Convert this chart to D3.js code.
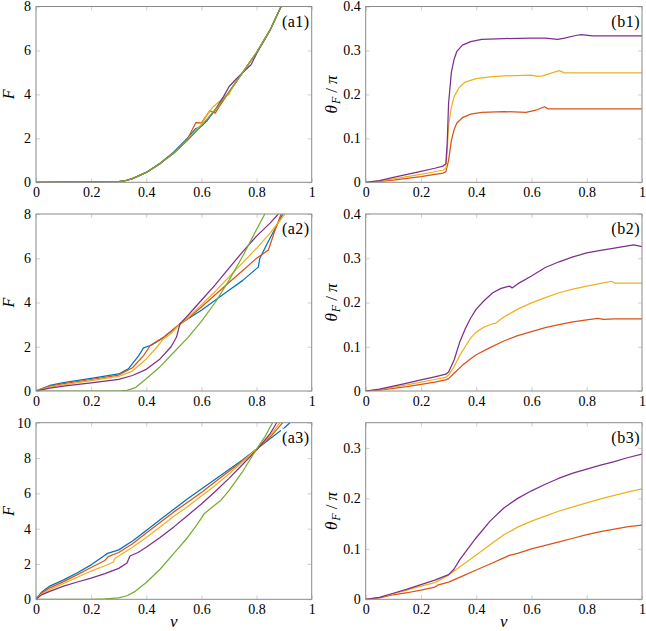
<!DOCTYPE html>
<html><head><meta charset="utf-8">
<script src="https://cdn.jsdelivr.net/npm/d3@7"></script>
<style>
body{margin:0;background:#fff;}
svg{display:block;}
</style></head>
<body><svg id="c" width="646" height="631"></svg>
<script>
// ---------- DATA ----------
const xTicks = [0, 0.2, 0.4, 0.6, 0.8, 1];
const yTicksA12 = [0, 2, 4, 6, 8];
const yTicksA3 = [0, 2, 4, 6, 8, 10];
const yTicksB12 = [0, 0.1, 0.2, 0.3, 0.4];
const yTicksB3 = [0, 0.1, 0.2, 0.3];
const colors = {blue:"#0072BD", red:"#D95319", yellow:"#EDB120", purple:"#7E2F8E", green:"#77AC30"};

// (a1) F vs v
const a1Blue   = [[0,0],[0.1,0.005],[0.2,0.01],[0.3,0.03],[0.32,0.06],[0.35,0.17],[0.4,0.45],[0.45,0.87],[0.5,1.38],[0.55,2.02],[0.58,2.45],[0.6,2.55],[0.62,2.8],[0.65,3.3],[0.7,4.1],[0.75,5.0],[0.8,5.9],[0.85,6.95],[0.889,8.0]];
const a1Red    = [[0,0],[0.1,0.005],[0.2,0.01],[0.3,0.03],[0.32,0.06],[0.35,0.17],[0.4,0.45],[0.45,0.85],[0.5,1.35],[0.55,1.98],[0.58,2.72],[0.6,2.7],[0.63,3.25],[0.65,3.15],[0.67,3.55],[0.7,4.1],[0.75,5.0],[0.8,5.9],[0.85,6.95],[0.889,8.0]];
const a1Yellow = [[0,0],[0.1,0.005],[0.2,0.01],[0.3,0.03],[0.32,0.06],[0.35,0.17],[0.4,0.45],[0.45,0.85],[0.5,1.33],[0.55,1.95],[0.6,2.65],[0.62,3.05],[0.64,3.4],[0.68,3.85],[0.7,4.0],[0.72,4.5],[0.75,5.0],[0.8,5.9],[0.85,6.95],[0.889,8.0]];
const a1Purple = [[0,0],[0.1,0.005],[0.2,0.01],[0.3,0.03],[0.32,0.06],[0.35,0.17],[0.4,0.45],[0.45,0.85],[0.5,1.33],[0.55,1.92],[0.6,2.57],[0.65,3.3],[0.68,3.9],[0.7,4.35],[0.72,4.62],[0.75,5.0],[0.78,5.35],[0.8,5.85],[0.85,6.95],[0.889,8.0]];
const a1Green  = [[0,0],[0.1,0.005],[0.2,0.01],[0.3,0.03],[0.32,0.06],[0.35,0.17],[0.4,0.45],[0.45,0.85],[0.5,1.33],[0.55,1.92],[0.6,2.57],[0.65,3.3],[0.7,4.1],[0.75,5.0],[0.8,5.9],[0.85,6.95],[0.889,8.0]];

// (b1) theta_F/pi vs v
const b1Red    = [[0,0],[0.05,0.002],[0.1,0.005],[0.15,0.009],[0.2,0.013],[0.25,0.018],[0.28,0.021],[0.29,0.024],[0.3,0.05],[0.31,0.095],[0.32,0.12],[0.33,0.135],[0.35,0.147],[0.38,0.155],[0.42,0.159],[0.5,0.161],[0.58,0.159],[0.62,0.165],[0.647,0.172],[0.66,0.167],[0.7,0.167],[0.8,0.167],[0.9,0.167],[1,0.167]];
const b1Yellow = [[0,0],[0.05,0.003],[0.1,0.008],[0.15,0.013],[0.2,0.018],[0.25,0.024],[0.28,0.028],[0.29,0.032],[0.295,0.07],[0.3,0.13],[0.31,0.17],[0.32,0.195],[0.34,0.217],[0.36,0.228],[0.4,0.236],[0.45,0.24],[0.5,0.242],[0.6,0.244],[0.62,0.241],[0.64,0.242],[0.68,0.25],[0.7,0.254],[0.72,0.249],[0.8,0.249],[0.9,0.249],[1,0.249]];
const b1Purple = [[0,0],[0.05,0.004],[0.1,0.011],[0.15,0.018],[0.2,0.025],[0.25,0.032],[0.28,0.037],[0.29,0.042],[0.295,0.09],[0.3,0.18],[0.31,0.25],[0.32,0.28],[0.33,0.298],[0.35,0.312],[0.38,0.32],[0.42,0.325],[0.5,0.327],[0.6,0.328],[0.65,0.328],[0.695,0.325],[0.72,0.328],[0.76,0.334],[0.78,0.336],[0.82,0.333],[0.9,0.333],[1,0.333]];

// (a2)
const a2Blue   = [[0,0],[0.05,0.25],[0.1,0.38],[0.2,0.57],[0.3,0.77],[0.335,1.0],[0.37,1.55],[0.39,1.95],[0.42,2.08],[0.46,2.4],[0.522,3.03],[0.55,3.25],[0.6,3.65],[0.65,4.1],[0.7,4.55],[0.75,5.0],[0.806,5.6],[0.812,6.0],[0.84,6.7],[0.87,7.4],[0.895,8.0]];
const a2Red    = [[0,0],[0.05,0.22],[0.1,0.33],[0.2,0.52],[0.3,0.72],[0.35,1.05],[0.39,1.6],[0.416,2.08],[0.46,2.4],[0.522,3.03],[0.55,3.27],[0.6,3.8],[0.65,4.35],[0.7,4.9],[0.75,5.45],[0.8,6.0],[0.843,6.37],[0.865,7.2],[0.889,8.0]];
const a2Yellow = [[0,0],[0.05,0.18],[0.1,0.28],[0.2,0.47],[0.3,0.66],[0.35,0.9],[0.4,1.45],[0.44,2.0],[0.46,2.33],[0.49,2.6],[0.522,3.03],[0.55,3.3],[0.6,3.9],[0.65,4.5],[0.7,5.15],[0.75,5.8],[0.8,6.45],[0.85,7.15],[0.903,8.0]];
const a2Purple = [[0,0],[0.05,0.13],[0.1,0.22],[0.2,0.37],[0.3,0.53],[0.35,0.7],[0.4,0.98],[0.45,1.45],[0.49,2.0],[0.51,2.45],[0.522,3.03],[0.55,3.4],[0.6,4.1],[0.65,4.8],[0.7,5.55],[0.75,6.3],[0.8,7.0],[0.85,7.6],[0.879,8.0]];
const a2Green  = [[0,0],[0.1,0],[0.2,0],[0.3,0],[0.33,0.03],[0.36,0.15],[0.4,0.55],[0.45,1.1],[0.5,1.75],[0.55,2.4],[0.6,3.15],[0.65,4.0],[0.7,5.0],[0.75,6.1],[0.8,7.3],[0.83,8.0]];

// (b2)
const b2Red    = [[0,0],[0.05,0.002],[0.1,0.006],[0.15,0.01],[0.2,0.015],[0.25,0.02],[0.29,0.025],[0.3,0.028],[0.32,0.04],[0.35,0.058],[0.38,0.073],[0.4,0.082],[0.45,0.098],[0.5,0.113],[0.55,0.125],[0.6,0.134],[0.65,0.143],[0.7,0.15],[0.75,0.156],[0.8,0.161],[0.84,0.164],[0.86,0.162],[0.9,0.163],[1,0.163]];
const b2Yellow = [[0,0],[0.05,0.003],[0.1,0.009],[0.15,0.014],[0.2,0.02],[0.25,0.026],[0.29,0.031],[0.3,0.036],[0.32,0.055],[0.34,0.08],[0.36,0.1],[0.38,0.12],[0.4,0.133],[0.43,0.145],[0.46,0.152],[0.47,0.153],[0.5,0.167],[0.55,0.185],[0.6,0.199],[0.65,0.211],[0.7,0.222],[0.75,0.23],[0.8,0.237],[0.85,0.243],[0.89,0.248],[0.9,0.244],[0.95,0.244],[1,0.244]];
const b2Purple = [[0,0],[0.05,0.004],[0.1,0.011],[0.15,0.018],[0.2,0.025],[0.25,0.032],[0.29,0.038],[0.3,0.043],[0.32,0.07],[0.34,0.11],[0.36,0.14],[0.38,0.165],[0.4,0.185],[0.43,0.205],[0.46,0.222],[0.49,0.232],[0.52,0.237],[0.53,0.233],[0.55,0.242],[0.6,0.26],[0.65,0.279],[0.7,0.292],[0.75,0.303],[0.8,0.312],[0.85,0.318],[0.9,0.323],[0.97,0.33],[1,0.326]];

// (a3)
const a3Blue   = [[0,0],[0.02,0.4],[0.05,0.75],[0.1,1.1],[0.15,1.5],[0.2,1.95],[0.25,2.5],[0.26,2.6],[0.3,2.8],[0.35,3.3],[0.4,3.9],[0.45,4.5],[0.5,5.1],[0.55,5.7],[0.6,6.25],[0.65,6.8],[0.7,7.35],[0.75,7.9],[0.8,8.5],[0.85,9.1],[0.9,9.7],[0.921,10]];
const a3Red    = [[0,0],[0.02,0.35],[0.05,0.65],[0.1,1.0],[0.15,1.4],[0.2,1.8],[0.25,2.2],[0.262,2.42],[0.3,2.65],[0.35,3.15],[0.4,3.75],[0.45,4.35],[0.5,4.95],[0.55,5.5],[0.6,6.05],[0.65,6.65],[0.7,7.25],[0.75,7.85],[0.8,8.5],[0.85,9.2],[0.895,10]];
const a3Yellow = [[0,0],[0.02,0.3],[0.05,0.55],[0.1,0.9],[0.15,1.25],[0.2,1.6],[0.25,1.9],[0.28,2.1],[0.287,2.32],[0.3,2.45],[0.35,2.95],[0.4,3.5],[0.45,4.1],[0.5,4.7],[0.55,5.25],[0.6,5.85],[0.65,6.45],[0.7,7.1],[0.75,7.8],[0.8,8.5],[0.85,9.3],[0.885,10]];
const a3Purple = [[0,0],[0.02,0.25],[0.05,0.45],[0.1,0.75],[0.15,0.98],[0.2,1.2],[0.25,1.45],[0.3,1.75],[0.33,2.05],[0.341,2.45],[0.37,2.65],[0.4,2.95],[0.45,3.5],[0.5,4.1],[0.55,4.75],[0.6,5.4],[0.65,6.1],[0.7,6.85],[0.75,7.65],[0.8,8.45],[0.85,9.4],[0.873,10]];
const a3Green  = [[0,0],[0.1,0],[0.2,0],[0.25,0.02],[0.3,0.08],[0.33,0.2],[0.36,0.45],[0.4,0.95],[0.45,1.7],[0.5,2.6],[0.55,3.5],[0.58,4.15],[0.6,4.6],[0.61,4.85],[0.63,5.1],[0.65,5.35],[0.67,5.6],[0.7,6.15],[0.75,7.25],[0.8,8.5],[0.83,9.2],[0.858,10]];

// (b3)
const b3Red    = [[0,0],[0.05,0.003],[0.1,0.009],[0.15,0.013],[0.2,0.018],[0.25,0.024],[0.26,0.028],[0.3,0.034],[0.35,0.046],[0.4,0.058],[0.45,0.07],[0.5,0.082],[0.52,0.087],[0.55,0.091],[0.6,0.1],[0.65,0.107],[0.7,0.114],[0.75,0.121],[0.8,0.128],[0.85,0.134],[0.9,0.139],[0.95,0.144],[1,0.147]];
const b3Yellow = [[0,0],[0.05,0.004],[0.1,0.011],[0.15,0.018],[0.2,0.026],[0.25,0.033],[0.3,0.048],[0.35,0.068],[0.4,0.088],[0.45,0.108],[0.5,0.128],[0.55,0.143],[0.6,0.155],[0.65,0.165],[0.7,0.175],[0.75,0.183],[0.8,0.191],[0.85,0.199],[0.9,0.206],[0.95,0.213],[1,0.219]];
const b3Purple = [[0,0],[0.05,0.004],[0.1,0.012],[0.15,0.02],[0.2,0.029],[0.25,0.038],[0.3,0.049],[0.32,0.06],[0.34,0.078],[0.36,0.093],[0.4,0.122],[0.45,0.155],[0.5,0.181],[0.55,0.2],[0.6,0.215],[0.65,0.228],[0.7,0.24],[0.75,0.25],[0.8,0.258],[0.85,0.266],[0.9,0.273],[0.95,0.281],[1,0.288]];

// ---------- DRAW ----------
const svg = d3.select("#c");
const leftX = [36, 311.7], rightX = [365.7, 642];
const rows = [[6.5, 182.3], [214, 391], [422.7, 599.3]];
const frameColor = "#8a8a8a", tickColor = "#c4c4c4";
const FONT = "Liberation Serif";

function fmt(d){ return d === 0 ? "0" : (d === 1 ? "1" : String(d)); }

function panel(opts, idx){
  const [x0, x1] = opts.xr, [yt, yb] = opts.yr;
  const x = d3.scaleLinear().domain([0,1]).range([x0, x1]);
  const y = d3.scaleLinear().domain([0, opts.ymax]).range([yb, yt]);
  const g = svg.append("g");
  const cid = "clip" + idx;
  g.append("clipPath").attr("id", cid).append("rect")
    .attr("x", x0).attr("y", yt).attr("width", x1 - x0).attr("height", yb - yt);

  const axB = d3.axisBottom(x).tickValues(xTicks).tickSize(-4).tickPadding(5).tickFormat(fmt);
  const axT = d3.axisTop(x).tickValues(xTicks).tickSize(-4).tickFormat("");
  const axL = d3.axisLeft(y).tickValues(opts.yTicks).tickSize(-4).tickPadding(5).tickFormat(fmt);
  const axR = d3.axisRight(y).tickValues(opts.yTicks).tickSize(-4).tickFormat("");
  const gb = g.append("g").attr("transform", `translate(0,${yb})`).call(axB);
  const gt = g.append("g").attr("transform", `translate(0,${yt})`).call(axT);
  const gl = g.append("g").attr("transform", `translate(${x0},0)`).call(axL);
  const gr = g.append("g").attr("transform", `translate(${x1},0)`).call(axR);
  [gb, gt, gl, gr].forEach(a => {
    a.select(".domain").remove();
    a.selectAll(".tick line").attr("stroke", tickColor).attr("stroke-width", 0.8);
    a.selectAll(".tick text").attr("fill", "#000")
      .attr("font-family", FONT).style("font-family", FONT).style("font-size", "14px");
  });

  const line = d3.line().x(d => x(d[0])).y(d => y(d[1]));
  const lg = g.append("g").attr("clip-path", `url(#${cid})`);
  opts.series.forEach(s => {
    lg.append("path").datum(s.data).attr("d", line)
      .attr("fill", "none").attr("stroke", colors[s.c]).attr("stroke-width", 1.25)
      .attr("stroke-linejoin", "round");
  });

  g.append("rect").attr("x", x0).attr("y", yt).attr("width", x1 - x0).attr("height", yb - yt)
    .attr("fill", "none").attr("stroke", frameColor).attr("stroke-width", 1);

  const lg2 = g.append("g");
  const bg = lg2.append("rect").attr("fill", "#fff");
  const lab = lg2.append("text").attr("x", x1 - 2).attr("y", yt + 20)
    .attr("text-anchor", "end").style("font-family", FONT).style("font-size", "16px")
    .attr("letter-spacing", 0.5).text(opts.label);
  const bb = lab.node().getBBox();
  bg.attr("x", bb.x - 1).attr("y", bb.y).attr("width", bb.width + 2).attr("height", bb.height);

  const cy = (yt + yb) / 2;
  if (opts.kind === "a") {
    g.append("text").attr("transform", `translate(14,${cy}) rotate(-90)`)
      .attr("text-anchor", "middle").style("font-family", FONT).style("font-size", "16px")
      .style("font-style", "italic").text("F");
  } else {
    const t = g.append("text").attr("transform", `translate(${x0 - 29},${cy}) rotate(-90)`)
      .attr("text-anchor", "middle").style("font-family", FONT).style("font-size", "17px");
    t.append("tspan").style("font-style", "italic").text("θ");
    t.append("tspan").style("font-style", "italic").style("font-size", "12px").attr("dy", 3).attr("dx", 1).text("F");
    t.append("tspan").attr("dy", -3).attr("dx", 4).text("/");
    t.append("tspan").style("font-style", "italic").attr("dx", 4).text("π");
  }
  if (opts.xlabel) {
    g.append("text").attr("x", (x0 + x1) / 2).attr("y", 627)
      .attr("text-anchor", "middle").style("font-family", FONT).style("font-size", "17px")
      .style("font-style", "italic").text("v");
  }
}

const s5 = (b, r, yl, p, gr) => [
  {c:"blue", data:b}, {c:"red", data:r}, {c:"yellow", data:yl}, {c:"purple", data:p}, {c:"green", data:gr}];
const s3 = (r, yl, p) => [{c:"red", data:r}, {c:"yellow", data:yl}, {c:"purple", data:p}];

const panels = [
  {kind:"a", xr:leftX, yr:rows[0], ymax:8, yTicks:yTicksA12, label:"(a1)", series:s5(a1Blue,a1Red,a1Yellow,a1Purple,a1Green)},
  {kind:"b", xr:rightX, yr:rows[0], ymax:0.4, yTicks:yTicksB12, label:"(b1)", series:s3(b1Red,b1Yellow,b1Purple)},
  {kind:"a", xr:leftX, yr:rows[1], ymax:8, yTicks:yTicksA12, label:"(a2)", series:s5(a2Blue,a2Red,a2Yellow,a2Purple,a2Green)},
  {kind:"b", xr:rightX, yr:rows[1], ymax:0.4, yTicks:yTicksB12, label:"(b2)", series:s3(b2Red,b2Yellow,b2Purple)},
  {kind:"a", xr:leftX, yr:rows[2], ymax:10, yTicks:yTicksA3, label:"(a3)", xlabel:true, series:s5(a3Blue,a3Red,a3Yellow,a3Purple,a3Green)},
  {kind:"b", xr:rightX, yr:rows[2], ymax:0.35, yTicks:yTicksB3, label:"(b3)", xlabel:true, series:s3(b3Red,b3Yellow,b3Purple)}
];
panels.forEach((p, i) => panel(p, i));
</script></body></html>
